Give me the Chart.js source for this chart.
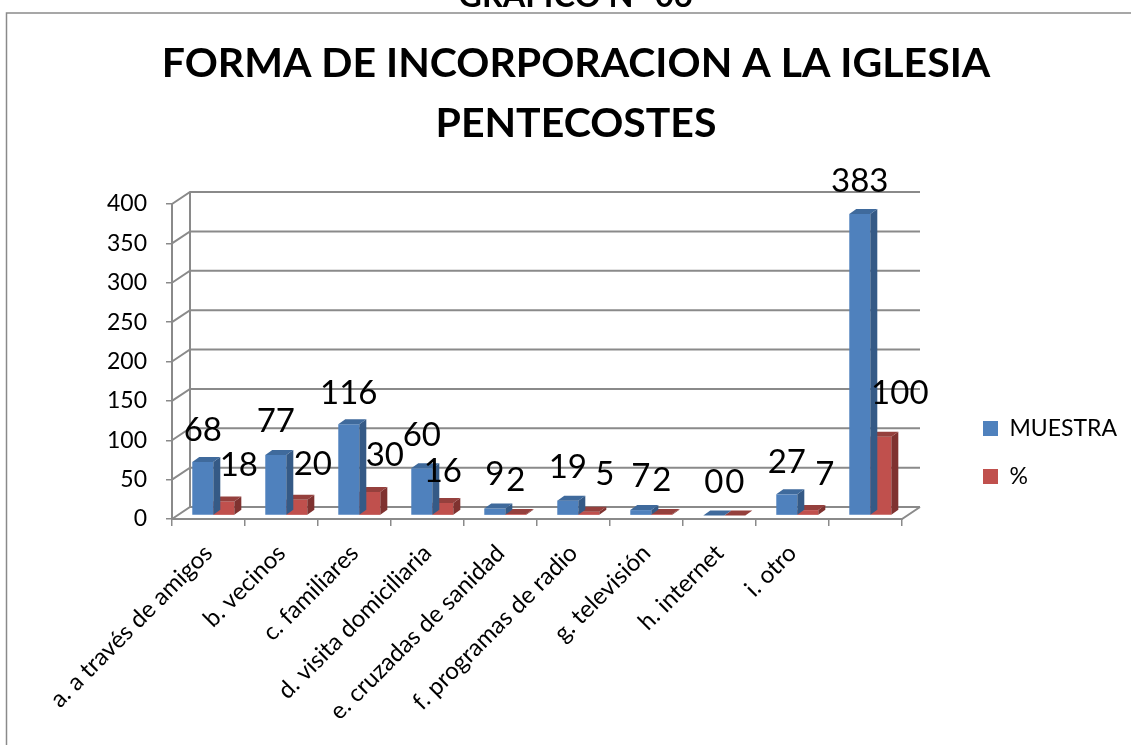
<!DOCTYPE html>
<html>
<head>
<meta charset="utf-8">
<script src="https://cdn.jsdelivr.net/npm/chart.js@4"></script>
<style>
html,body{margin:0;padding:0;background:#fff;overflow:hidden;width:1131px;height:745px}
canvas{display:block}
</style>
</head>
<body>
<canvas id="c" width="1152" height="745"></canvas>
<script>
const categories = ['a. a través de amigos','b. vecinos','c. familiares','d. visita domiciliaria','e. cruzadas de sanidad','f. programas de radio','g. televisión','h. internet','i. otro',''];
const muestra = [68,77,116,60,9,19,7,0,27,383];
const porcentaje = [18,20,30,16,2,5,2,0,7,100];
const titleLines = ['FORMA DE INCORPORACION A LA IGLESIA','PENTECOSTES'];
const pageHeading = 'GRÁFICO N° 06';

const FONT = 'Lato';
const GREY = '#8a8a8a';
const BAR_SHIFT = {x:4.8, y:-3.4};
const BAR_DEPTH = {x:7, y:-5};
const WALL = {x:18, y:-12};
const LABEL_NUDGE = [
  [[0,1],[0,-1],[0,2],[0,0],[0,-1],[0,0],[0,-1],[0,0],[0,1],[0,0]],
  [[15,-3],[16,-2],[15,-4],[0,1],[0,-1],[16,-4],[0,-1],[0,0],[17,-3],[19,-10]]
];
const FACES = [{side:'#355a86',top:'#3f6a9c'},{side:'#7f3230',top:'#95403d'}];

const walls3d = {
  id:'walls3d',
  beforeLayout(chart){
    const l = chart.legend;
    if(!l._fixedFit){
      const fit = l.fit;
      l.fit = function(){ fit.call(this); this.width = 250; };
      l._fixedFit = true;
    }
  },
  beforeDraw(chart){
    const c = chart.ctx, ys = chart.scales.y, a = chart.chartArea;
    c.save();
    c.strokeStyle = GREY; c.lineWidth = 1.5;
    c.strokeRect(6.5,13,2000,2000);
    c.lineWidth = 2; c.strokeStyle = GREY;
    const y0 = ys.getPixelForValue(0);
    ys.ticks.forEach(t=>{
      const y = ys.getPixelForValue(t.value);
      c.beginPath(); c.moveTo(a.left,y);c.lineTo(a.left+WALL.x,y+WALL.y);
      c.lineTo(a.right+WALL.x,y+WALL.y);
      c.stroke();
    });
    c.beginPath();
    c.moveTo(a.left+WALL.x,ys.getPixelForValue(400)+WALL.y);
    c.lineTo(a.left+WALL.x,y0+WALL.y);
    c.stroke();
    c.beginPath();
    c.moveTo(a.left,y0);c.lineTo(a.right,y0);c.lineTo(a.right+WALL.x,y0+WALL.y);
    c.stroke();
    c.fillStyle='#000';
    c.font='bold 32.5px '+FONT;
    c.textAlign='center'; c.textBaseline='alphabetic';
    c.fillText(pageHeading,575.5,7);
    c.restore();
  },
  beforeDatasetsDraw(chart){
    chart.ctx.save();
    chart.ctx.translate(BAR_SHIFT.x,BAR_SHIFT.y);
  },
  afterDatasetDraw(chart,args){
    const c = chart.ctx, f = FACES[args.index];
    args.meta.data.forEach(b=>{
      const l=b.x-b.width/2, r=b.x+b.width/2, t=b.y, bt=b.base;
      c.fillStyle=f.side;
      c.beginPath();c.moveTo(r,t);c.lineTo(r+BAR_DEPTH.x,t+BAR_DEPTH.y);
      c.lineTo(r+BAR_DEPTH.x,bt+BAR_DEPTH.y);c.lineTo(r,bt);c.closePath();c.fill();
      c.fillStyle=f.top;
      c.beginPath();c.moveTo(l,t);c.lineTo(l+BAR_DEPTH.x,t+BAR_DEPTH.y);
      c.lineTo(r+BAR_DEPTH.x,t+BAR_DEPTH.y);c.lineTo(r,t);c.closePath();c.fill();
    });
  },
  afterDatasetsDraw(chart){
    const c = chart.ctx;
    c.fillStyle='#000';
    c.font='33px '+FONT;
    c.textAlign='center'; c.textBaseline='middle';
    chart.data.datasets.forEach((ds,i)=>{
      chart.getDatasetMeta(i).data.forEach((b,j)=>{
        const n=LABEL_NUDGE[i][j];
        c.fillText(String(ds.data[j]),b.x+n[0],b.y-33+n[1]);
      });
    });
    chart.ctx.restore();
  },
  afterLayout(chart){
    chart.legend.left=958;
    chart.legend.top=392;
  }
};

new Chart(document.getElementById('c'),{
  type:'bar',
  plugins:[walls3d],
  data:{labels:categories,datasets:[
    {label:'MUESTRA',data:muestra,backgroundColor:'#4f81bd',clip:false},
    {label:'%',data:porcentaje,backgroundColor:'#c0504d',clip:false}
  ]},
  options:{
    responsive:false,animation:false,
    layout:{padding:0},
    datasets:{bar:{categoryPercentage:0.576,barPercentage:1}},
    plugins:{
      tooltip:{enabled:false},
      title:{display:true,text:titleLines,color:'#000',
        font:{family:FONT,size:41,weight:'bold',lineHeight:'60px'},
        padding:{top:34,bottom:50}},
      legend:{display:true,position:'right',align:'start',
        labels:{boxWidth:15,boxHeight:15,padding:25,color:'#000',
          font:{family:FONT,size:23}}}
    },
    scales:{
      x:{
        afterFit(s){s.height=226;},
        grid:{drawOnChartArea:false,drawTicks:true,tickLength:7,color:GREY,lineWidth:1.5},
        border:{display:true,color:GREY,width:2},
        ticks:{maxRotation:45,minRotation:45,autoSkip:false,color:'#000',padding:13,
          font:{family:FONT,size:24}}
      },
      y:{
        min:0,max:400,
        afterFit(s){s.width=172;},
        grid:{drawOnChartArea:false,drawTicks:true,tickLength:6,color:GREY,lineWidth:1.5},
        border:{display:true,color:GREY,width:2},
        ticks:{stepSize:50,color:'#000',padding:19,font:{family:FONT,size:23}}
      }
    }
  }
});
</script>
</body>
</html>
